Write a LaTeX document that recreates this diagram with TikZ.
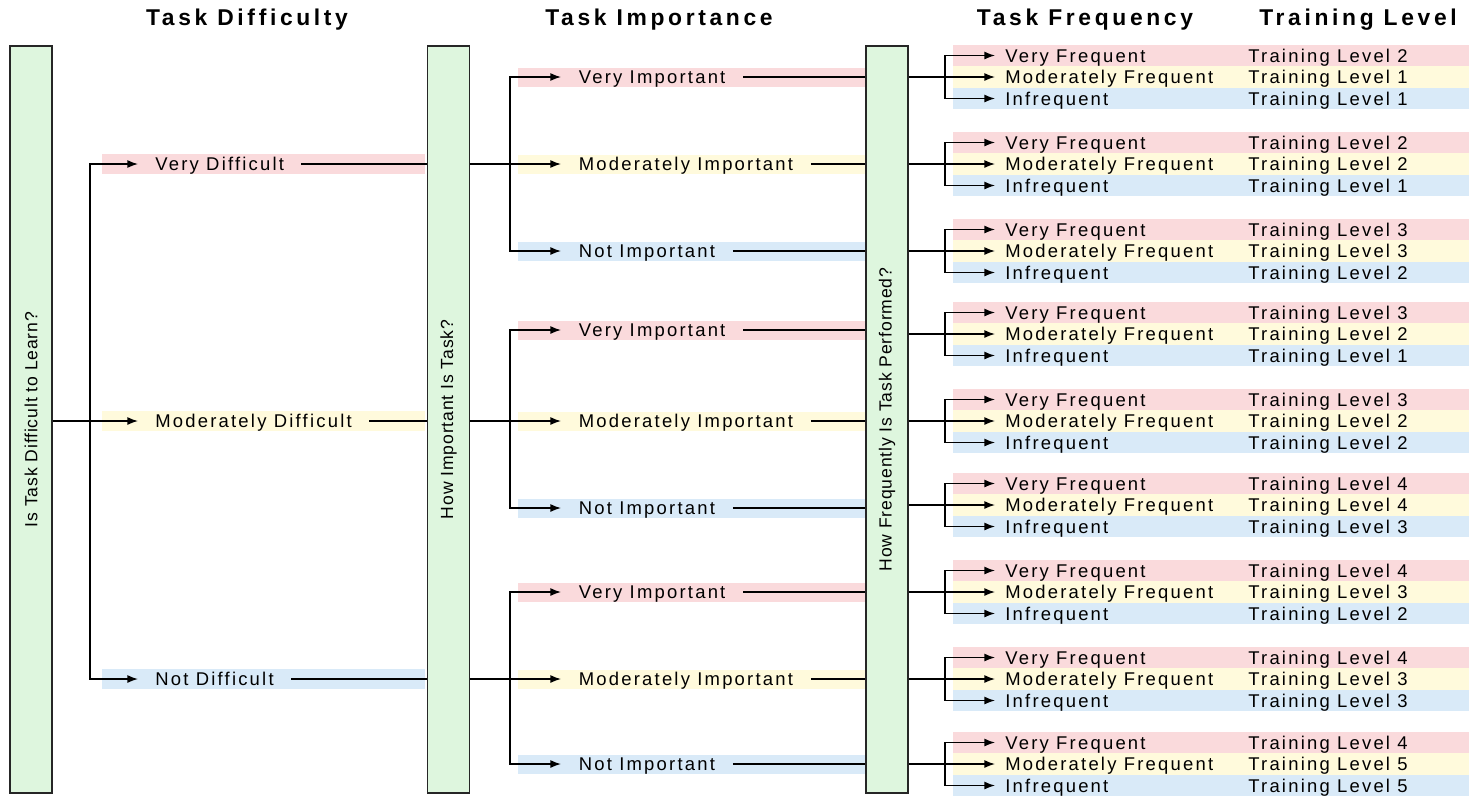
\documentclass[tikz,border=0pt]{standalone}
\usepackage{fontspec}
\newfontfamily\labelfont[LetterSpace=12]{Liberation Sans}
\newfontfamily\barfont[LetterSpace=5]{Liberation Sans}
\newfontfamily\headfont[LetterSpace=16]{Liberation Sans}
\usetikzlibrary{arrows.meta}

\definecolor{bandred}{RGB}{250,218,220}
\definecolor{bandyellow}{RGB}{255,250,220}
\definecolor{bandblue}{RGB}{217,234,248}
\definecolor{barfill}{RGB}{222,246,222}

\begin{document}
\begin{tikzpicture}[x=0.02cm, y=-0.02cm,
    qbar/.style={draw=black!85, line width=1.1pt, fill=barfill, rotate=90, minimum width=14.94cm, minimum height=0.84cm, inner sep=0pt, font=\barfont\fontsize{10}{12}\selectfont},
    heading/.style={font=\headfont\bfseries\fontsize{13}{15}\selectfont},
    choice/.style={anchor=west, inner ysep=0pt, text height=7.5pt, text depth=0pt, font=\labelfont\fontsize{10.5}{12}\selectfont},
    link/.style={line width=0.8pt},
    flow/.style={link, -{Latex[length=6pt, width=4.5pt]}}]

    \useasboundingbox (0,0) rectangle (1469,795);

        % Headings
    \node (hdiff) [heading] at (247,20) {Task Difficulty};
    \node (himp) [heading] at (659,20) {Task Importance};
    \node (hfreq) [heading] at (1085,20) {Task Frequency};
    \node (hlevel) [heading] at (1358,20) {Training Level};

        % Question bars
    \node (qdiff) [qbar] at (31,419.5) {Is Task Difficult to Learn?};
    \node (qimp) [qbar] at (448.5,419.5) {How Important Is Task?};
    \node (qfreq) [qbar] at (887,419.5) {How Frequently Is Task Performed?};

        % Task difficulty
    \fill[bandred] (102,154) rectangle (425,174);
    \fill[bandyellow] (102,411) rectangle (425,431);
    \fill[bandblue] (102,669) rectangle (425,689);
    \node (d1) [choice, inner xsep=0.34cm] at (138,164) {Very Difficult};
    \node (d2) [choice, inner xsep=0.34cm] at (138,421) {Moderately Difficult};
    \node (d3) [choice, inner xsep=0.34cm] at (138,679) {Not Difficult};
    \coordinate (dfork) at (90,421);
    \draw [link] (qdiff.south |- dfork) -- (dfork);
    \draw [flow] (dfork) |- (d1);
    \draw [flow] (dfork) -- (d2);
    \draw [flow] (dfork) |- (d3);

        % Task importance
    \foreach \g/\a/\b/\c in {1/77/164/251, 2/330/421/508, 3/592/679/764} {
        \fill[bandred] (518,\a-9.5) rectangle (865,\a+9.5);
        \fill[bandyellow] (518,\b-9.5) rectangle (865,\b+9.5);
        \fill[bandblue] (518,\c-9.5) rectangle (865,\c+9.5);
        \node (iv\g) [choice, inner xsep=0.35cm] at (561,\a) {Very Important};
        \node (im\g) [choice, inner xsep=0.35cm] at (561,\b) {Moderately Important};
        \node (in\g) [choice, inner xsep=0.35cm] at (561,\c) {Not Important};
        \coordinate (ifork\g) at (510,\b);
        \draw [link] (d\g.east) -- (qimp.north |- d\g);
        \draw [link] (qimp.south |- ifork\g) -- (ifork\g);
        \draw [flow] (ifork\g) |- (iv\g);
        \draw [flow] (ifork\g) -- (im\g);
        \draw [flow] (ifork\g) |- (in\g);
        \draw [link] (iv\g.east) -- (qfreq.north |- iv\g);
        \draw [link] (im\g.east) -- (qfreq.north |- im\g);
        \draw [link] (in\g.east) -- (qfreq.north |- in\g);
    }

        % Task frequency and training level
    \foreach \n/\y/\la/\lb/\lc in {1/77/2/1/1, 2/164/2/2/1, 3/251/3/3/2, 4/334/3/2/1, 5/421/3/2/2, 6/505/4/4/3, 7/592/4/3/2, 8/679/4/3/3, 9/764/4/5/5} {
        \fill[bandred] (953,\y-32.25) rectangle (1469,\y-10.75);
        \fill[bandyellow] (953,\y-10.75) rectangle (1469,\y+10.75);
        \fill[bandblue] (953,\y+10.75) rectangle (1469,\y+32.25);
        \node (fv\n) [choice, inner xsep=0.2cm] at (995,\y-21.5) {Very Frequent};
        \node (fm\n) [choice, inner xsep=0.2cm] at (995,\y) {Moderately Frequent};
        \node (fi\n) [choice, inner xsep=0.2cm] at (995,\y+21.5) {Infrequent};
        \node (tv\n) [choice, inner xsep=0pt] at (1248,\y-21.5) {Training Level \la};
        \node (tm\n) [choice, inner xsep=0pt] at (1248,\y) {Training Level \lb};
        \node (ti\n) [choice, inner xsep=0pt] at (1248,\y+21.5) {Training Level \lc};
        \coordinate (ffork\n) at (945,\y);
        \draw [link] (qfreq.south |- ffork\n) -- (ffork\n);
        \draw [flow] (ffork\n) |- (fv\n);
        \draw [flow] (ffork\n) -- (fm\n);
        \draw [flow] (ffork\n) |- (fi\n);
    }

\end{tikzpicture}
\end{document}
